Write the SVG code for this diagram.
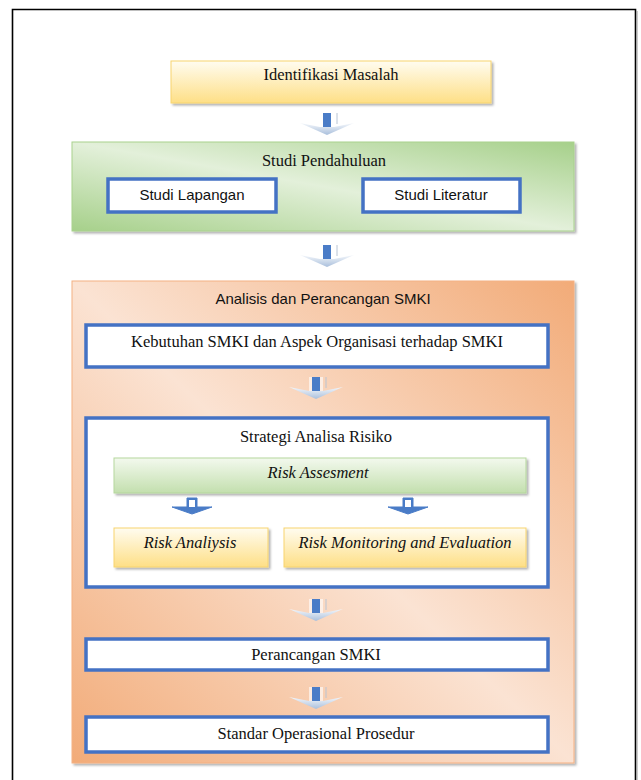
<svg xmlns="http://www.w3.org/2000/svg" width="641" height="780" viewBox="0 0 641 780">
<defs>
<linearGradient id="gYellow" x1="0" y1="0" x2="0" y2="1">
<stop offset="0" stop-color="#fffcf0"/><stop offset="1" stop-color="#fedf86"/>
</linearGradient>
<linearGradient id="gGreenBar" x1="0" y1="0" x2="0" y2="1">
<stop offset="0" stop-color="#f3f9ee"/><stop offset="1" stop-color="#c3dfae"/>
</linearGradient>
<linearGradient id="gGreen" x1="1" y1="0" x2="0" y2="1">
<stop offset="0" stop-color="#a6d08a"/><stop offset="0.5" stop-color="#e3f0da"/><stop offset="1" stop-color="#a6d08a"/>
</linearGradient>
<linearGradient id="gOrange" x1="1" y1="0" x2="0" y2="1">
<stop offset="0" stop-color="#f2ab78"/><stop offset="0.5" stop-color="#fbe3d3"/><stop offset="1" stop-color="#f2ab78"/>
</linearGradient>
<linearGradient id="gArrow" x1="0" y1="0" x2="0" y2="1">
<stop offset="0" stop-color="#f4f7fb"/><stop offset="1" stop-color="#a9bfdc"/>
</linearGradient>
<filter id="sh" x="-5%" y="-5%" width="110%" height="120%">
<feDropShadow dx="2" dy="2" stdDeviation="0.8" flood-color="#000" flood-opacity="0.3"/>
</filter>
<g id="bigArrow">
<polygon points="-27,-4 -7,0 7,0 27,-4 0,8" fill="url(#gArrow)"/>
<rect x="-7" y="-14" width="14" height="14" fill="#ffffff" opacity="0.6"/>
<rect x="-4" y="-14" width="8" height="14" fill="#4a7cc7"/>
<line x1="10" y1="-14" x2="10" y2="-3" stroke="#b8c4d4" stroke-width="1"/>
</g>
<g id="smallArrow">
<polygon points="-5,-7 5,-7 5,2 20,2 0,9 -20,2 -5,2" fill="#4a7cc7" stroke="#4a7cc7" stroke-width="1" stroke-linejoin="round"/>
<rect x="-3" y="-5" width="6" height="7" fill="#ffffff"/>
</g>
</defs>
<style>
.serif{font-family:"Liberation Serif","DejaVu Serif",serif;font-size:16.5px;fill:#111;text-anchor:middle}
.it{font-style:italic}
.sans{font-family:"Liberation Sans","DejaVu Sans",sans-serif;font-size:15px;fill:#111;text-anchor:middle}
.blue{fill:#ffffff;stroke:#4472c4;stroke-width:3.5}
</style>
<rect width="641" height="780" fill="#ffffff"/>
<path d="M12.5,790 V9.5 H635.5 V790" fill="none" stroke="#000" stroke-width="1.6"/>
<line x1="637" y1="11" x2="637" y2="780" stroke="#999" stroke-width="1"/>

<g id="identifikasi">
<rect x="171" y="61" width="320" height="42" fill="url(#gYellow)" stroke="#f7d46e" stroke-width="1" filter="url(#sh)"/>
<text class="serif" x="331" y="80">Identifikasi Masalah</text>
</g>

<g id="studi-pendahuluan">
<rect x="72" y="142" width="502" height="89" fill="url(#gGreen)" stroke="#a9d18e" stroke-width="1" filter="url(#sh)"/>
<text class="serif" x="324" y="166">Studi Pendahuluan</text>
</g>
<g id="studi-lapangan">
<rect class="blue" x="108" y="179" width="168" height="33"/>
<text class="sans" x="192" y="200">Studi Lapangan</text>
</g>
<g id="studi-literatur">
<rect class="blue" x="363" y="179" width="157" height="33"/>
<text class="sans" x="441" y="200">Studi Literatur</text>
</g>

<g id="analisis">
<rect x="72" y="281" width="502" height="482" fill="url(#gOrange)" stroke="#f4b183" stroke-width="1" filter="url(#sh)"/>
<text class="sans" x="323" y="304" font-size="15.5">Analisis dan Perancangan SMKI</text>
</g>
<g id="kebutuhan">
<rect class="blue" x="86" y="325" width="462" height="42"/>
<text class="serif" x="317" y="347">Kebutuhan SMKI dan Aspek Organisasi terhadap SMKI</text>
</g>
<g id="strategi">
<rect class="blue" x="86" y="418" width="462" height="169"/>
<text class="serif" x="316" y="442">Strategi Analisa Risiko</text>
</g>
<g id="risk-assesment">
<rect x="114" y="458" width="412" height="35" fill="url(#gGreenBar)" stroke="#b5d79d" stroke-width="1" filter="url(#sh)"/>
<text class="serif it" x="318" y="478">Risk Assesment</text>
</g>
<g id="risk-analiysis">
<rect x="114" y="528" width="154" height="39" fill="url(#gYellow)" stroke="#f7d46e" stroke-width="1" filter="url(#sh)"/>
<text class="serif it" x="190" y="548">Risk Analiysis</text>
</g>
<g id="risk-monitoring">
<rect x="284" y="528" width="242" height="39" fill="url(#gYellow)" stroke="#f7d46e" stroke-width="1" filter="url(#sh)"/>
<text class="serif it" x="405" y="548">Risk Monitoring and Evaluation</text>
</g>
<g id="perancangan">
<rect class="blue" x="86" y="639" width="462" height="31"/>
<text class="serif" x="316" y="660">Perancangan SMKI</text>
</g>
<g id="standar">
<rect class="blue" x="86" y="717" width="462" height="35"/>
<text class="serif" x="316" y="739">Standar Operasional Prosedur</text>
</g>

<g id="connectors">
<use href="#bigArrow" x="327" y="127"/>
<use href="#bigArrow" x="327" y="259"/>
<use href="#bigArrow" x="316" y="391"/>
<use href="#bigArrow" x="316" y="613"/>
<use href="#bigArrow" x="316" y="701"/>
<use href="#smallArrow" x="192" y="505"/>
<use href="#smallArrow" x="408" y="505"/>
</g>
</svg>
